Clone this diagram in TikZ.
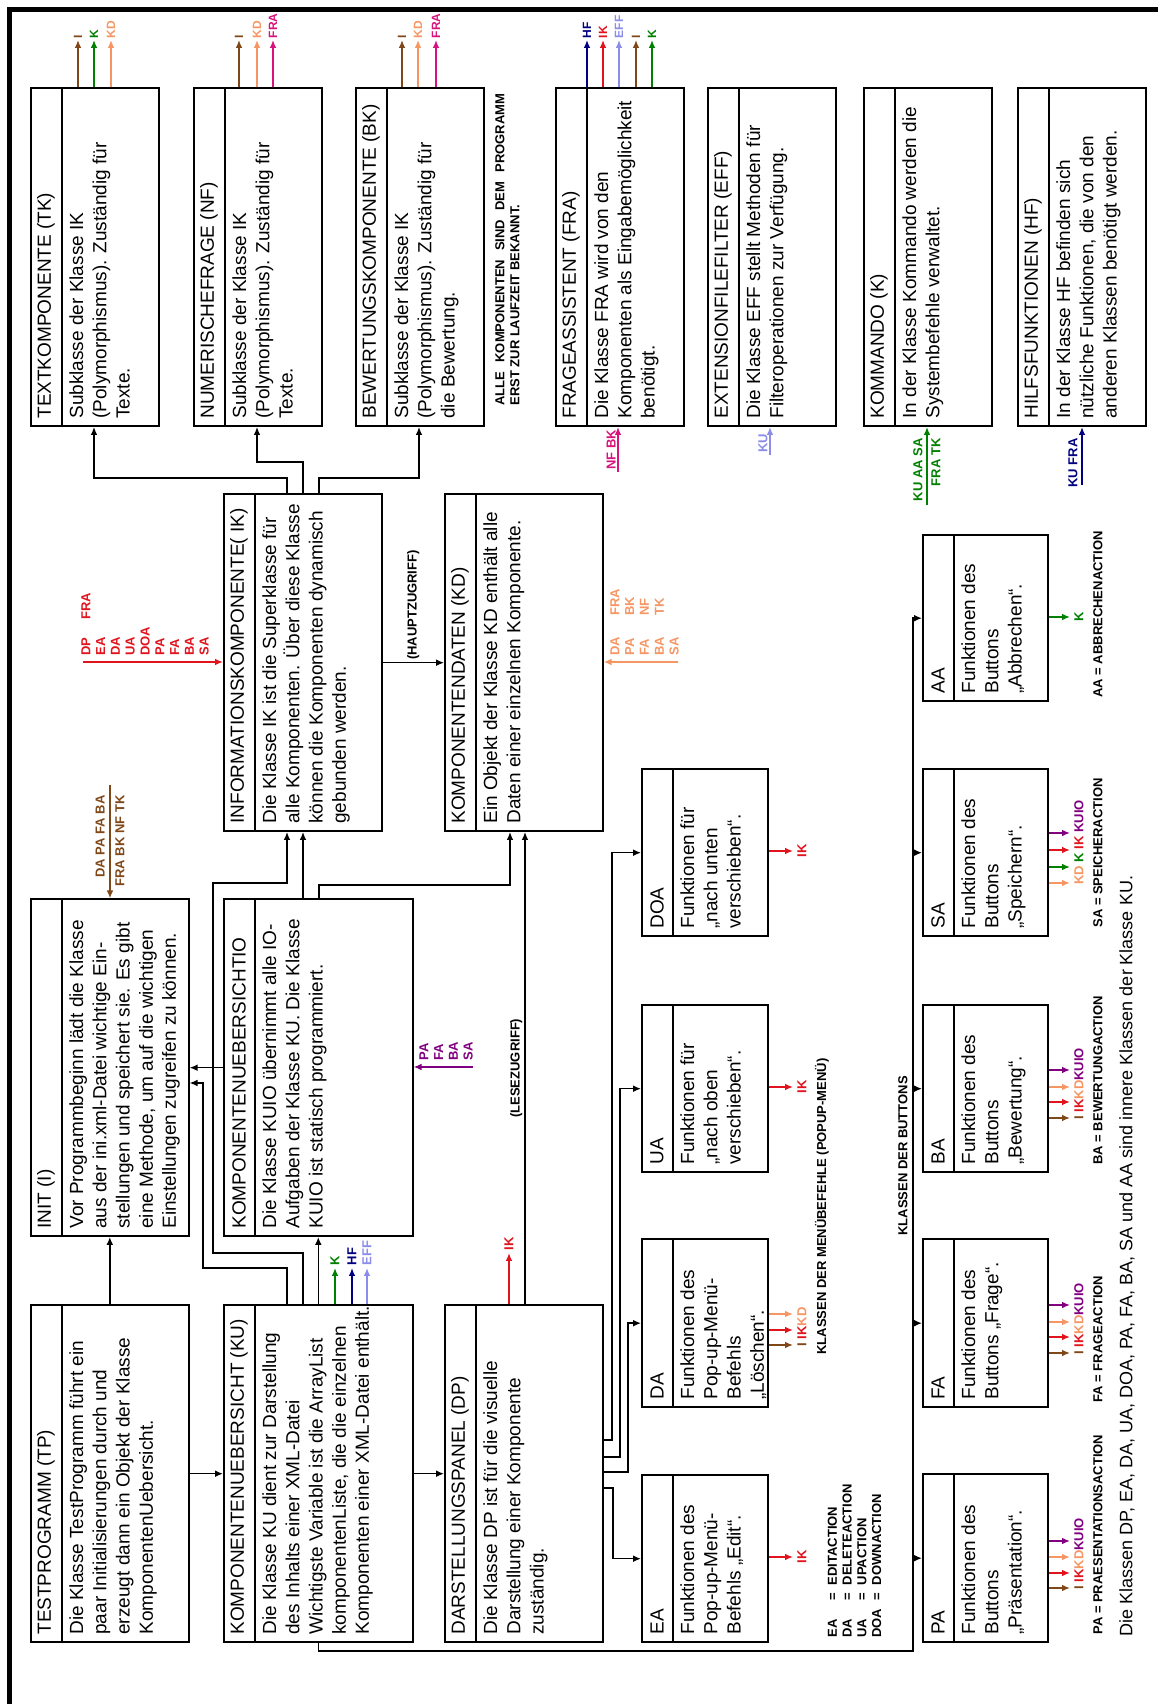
\documentclass[tikz,border=0pt]{standalone}
\usepackage{fontspec}
\setmainfont{Liberation Sans}
\usetikzlibrary{arrows.meta}
\definecolor{cI}{RGB}{128,72,24}
\definecolor{cK}{RGB}{0,128,0}
\definecolor{cKD}{RGB}{245,150,100}
\definecolor{cFRA}{RGB}{215,20,125}
\definecolor{cIK}{RGB}{225,20,30}
\definecolor{cHF}{RGB}{0,0,128}
\definecolor{cEFF}{RGB}{140,140,235}
\definecolor{cKUIO}{RGB}{128,0,128}

\begin{document}
\begin{tikzpicture}[x=0.5pt, y=0.5pt,
  klasse/.style={draw, line width=0.8pt, inner sep=0pt, anchor=north west},
  titel/.style={anchor=west, inner xsep=4pt, font=\fontsize{9.5}{11.5}\selectfont},
  inhalt/.style={anchor=north west, align=left, inner xsep=4pt, inner ysep=3.5pt, font=\fontsize{9.5}{11.6}\selectfont},
  pfeil/.style={-{Latex[length=4pt,width=3.4pt]}, line width=0.7pt},
  farb/.style={-{Latex[length=4pt,width=3.4pt]}, line width=0.8pt},
  lbl/.style={font=\fontsize{6.5}{7.4}\selectfont\bfseries, inner sep=1pt}]
\useasboundingbox (0,0) rectangle (1158,1704);
\draw[line width=2.6pt] (9.5,0) -- (9.5,1694.5) -- (1158,1694.5);
\begin{scope}[shift={(1158,0)}, rotate=90, transform shape]
% Klassen: name/links/oben/breite/hoehe/titel/text
\foreach \nm/\lx/\ty/\bw/\bh/\ttl/\txt in {
  tp/61/1128/337/158/{TESTPROGRAMM (TP)}/{Die Klasse TestProgramm führt ein\\paar Initialisierungen durch und\\erzeugt dann ein Objekt der Klasse\\KomponentenUebersicht.},
  init/467/1128/337/158/{INIT (I)}/{Vor Programmbeginn lädt die Klasse\\aus der ini.xml-Datei wichtige Ein-\\stellungen und speichert sie. Es gibt\\eine Methode, um auf die wichtigen\\Einstellungen zugreifen zu können.},
  ik/872/935/337/158/{INFORMATIONSKOMPONENTE( IK)}/{Die Klasse IK ist die Superklasse für\\alle Komponenten. Über diese Klasse\\können die Komponenten dynamisch\\gebunden werden.},
  ku/61/935/337/189/{KOMPONENTENUEBERSICHT (KU)}/{Die Klasse KU dient zur Darstellung\\des Inhalts einer XML-Datei\\Wichtigste Variable ist die ArrayList\\komponentenListe, die die einzelnen\\Komponenten einer XML-Datei enthält.},
  kuio/467/935/337/189/{KOMPONENTENUEBERSICHTIO}/{Die Klasse KUIO übernimmt alle IO-\\Aufgaben der Klasse KU. Die Klasse\\KUIO ist statisch programmiert.},
  kd/872/714/337/158/{KOMPONENTENDATEN (KD)}/{Ein Objekt der Klasse KD enthält alle\\Daten einer einzelnen Komponente.},
  dp/61/714/337/158/{DARSTELLUNGSPANEL (DP)}/{Die Klasse DP ist für die visuelle\\Darstellung einer Komponente\\zuständig.},
  tk/1277/1128/338/128/{TEXTKOMPONENTE (TK)}/{Subklasse der Klasse IK\\(Polymorphismus). Zuständig für\\Texte.},
  nf/1277/965/338/128/{NUMERISCHEFRAGE (NF)}/{Subklasse der Klasse IK\\(Polymorphismus). Zuständig für\\Texte.},
  bk/1277/803/338/128/{BEWERTUNGSKOMPONENTE (BK)}/{Subklasse der Klasse IK\\(Polymorphismus). Zuständig für\\die Bewertung.},
  fra/1277/603/338/128/{FRAGEASSISTENT (FRA)}/{Die Klasse FRA wird von den\\Komponenten als Eingabemöglichkeit\\benötigt.},
  eff/1277/451/338/128/{EXTENSIONFILEFILTER (EFF)}/{Die Klasse EFF stellt Methoden für\\Filteroperationen zur Verfügung.},
  kmd/1277/295/338/128/{KOMMANDO (K)}/{In der Klasse Kommando werden die\\Systembefehle verwaltet.},
  hf/1277/141/338/128/{HILFSFUNKTIONEN (HF)}/{In der Klasse HF befinden sich\\nützliche Funktionen, die von den\\anderen Klassen benötigt werden.},
  ea/61/517/167/126/{EA}/{Funktionen des\\Pop-up-Menü-\\Befehls „Edit“.},
  da/296/517/168/126/{DA}/{Funktionen des\\Pop-up-Menü-\\Befehls\\„Löschen“.},
  ua/531/517/167/126/{UA}/{Funktionen für\\„nach oben\\verschieben“.},
  doa/767/517/167/126/{DOA}/{Funktionen für\\„nach unten\\verschieben“.},
  pa/61/236/168/125/{PA}/{Funktionen des\\Buttons\\„Präsentation“.},
  fa/296/236/168/125/{FA}/{Funktionen des\\Buttons „Frage“.},
  ba/531/236/167/125/{BA}/{Funktionen des\\Buttons\\„Bewertung“.},
  sa/767/236/167/125/{SA}/{Funktionen des\\Buttons\\„Speichern“.},
  aa/1002/236/166/125/{AA}/{Funktionen des\\Buttons\\„Abbrechen“.}}{
  \node[klasse, minimum width=\bw*0.5pt, minimum height=\bh*0.5pt] (\nm) at (\lx,\ty) {};
  \draw[line width=0.8pt] (\lx,\ty-32) -- (\lx+\bw,\ty-32);
  \node[titel] (\nm-t) at (\lx,\ty-16) {\ttl};
  \node[inhalt] (\nm-b) at (\lx,\ty-32) {\txt};
}
% Verbindungen
\draw[pfeil] (tp) -- (init);
\draw[pfeil] (tp) -- (ku);
\draw[pfeil] (ku) -- (dp);
\draw[pfeil] (ku) -- (kuio);
\draw[pfeil] (kuio) -- (init);
\draw[pfeil] (ku.east |- 0,871) -| (436,955) -| (init.south -| 621,0);
\draw[pfeil] (ku.east |- 0,855) -| (451,945) -| (821,871) -- (ik.west |- 0,871);
\draw[pfeil] (kuio.east |- 0,855) -- (ik.west |- 0,855);
\draw[pfeil] (kuio.east |- 0,839) -| (819,648) -- (kd.west |- 0,648);
\draw[pfeil] (dp.east |- 0,633) -- (kd.west |- 0,633) node[lbl, midway, above] (lese) {(LESEZUGRIFF)};
\draw[pfeil] (ik) -- (kd) node[lbl, midway, right] (haupt) {(HAUPTZUGRIFF)};
\draw[pfeil] (ik.east |- 0,871) -| (1226,1064) -- (tk.west |- 0,1064);
\draw[pfeil] (ik.east |- 0,855) -| (1242,901) -- (nf.west |- 0,901);
\draw[pfeil] (ik.east |- 0,839) -| (1226,739) -- (bk.west |- 0,739);
\draw[pfeil] (dp.south -| 264,0) |- (doa.north |- 0,546) -- (doa.north);
\draw[pfeil] (dp.south -| 247,0) |- (ua.north |- 0,538) -- (ua.north);
\draw[pfeil] (dp.south -| 232,0) |- (da.north |- 0,530) -- (da.north);
\draw[pfeil] (dp.south -| 216,0) |- (ea.north |- 0,545) -- (ea.north);
\draw[pfeil] (ku.west) -| (53,245) -| (aa.north);
\foreach \nm in {pa,fa,ba,sa} \draw[pfeil] (\nm.north |- 0,245) -- (\nm.north);
\node[lbl, anchor=south] (knopf) at (548,248) {KLASSEN DER BUTTONS};
% farbige Pfeile rechts
\foreach \nm/\ly/\fb/\lb in {tk/1080/cI/I, tk/1064/cK/K, tk/1047/cKD/KD, nf/919/cI/I, nf/901/cKD/KD, nf/885/cFRA/FRA, bk/756/cI/I, bk/740/cKD/KD, bk/722/cFRA/FRA, fra/571/cHF/HF, fra/555/cIK/IK, fra/539/cEFF/EFF, fra/522/cI/I, fra/506/cK/K}{
  \coordinate (e\nm\lb) at (1664,\ly);
  \draw[farb, \fb] (\nm.east |- e\nm\lb) -- (e\nm\lb) node[lbl, anchor=west, inner sep=0.5pt, font=\fontsize{6}{7}\selectfont\bfseries, text=\fb] (l\nm\lb) {\lb};
}
\coordinate (sfra) at (1232,540);
\draw[farb, cFRA] (sfra) -- (fra.west |- sfra);
\node[lbl, text=cFRA, anchor=south west] (lfra) at (sfra) {NF BK};
\coordinate (seff) at (1249,388);
\draw[farb, cEFF] (seff) -- (eff.west |- seff);
\node[lbl, text=cEFF, anchor=south west] (leff) at (seff) {KU};
\coordinate (skmd) at (1199,231);
\draw[farb, cK] (skmd) -- (kmd.west |- skmd);
\node[lbl, text=cK, anchor=south east] (lkmda) at (1268,233) {KU AA SA};
\node[lbl, text=cK, anchor=north east] (lkmdb) at (1268,229) {FRA TK};
\coordinate (shf) at (1219,76);
\draw[farb, cHF] (shf) -- (hf.west |- shf);
\node[lbl, text=cHF, anchor=south east] (lhf) at (1268,78) {KU FRA};
\node[lbl, anchor=north west, align=left] (alle) at (1296,665) {\makebox[156pt][s]{ALLE KOMPONENTEN SIND DEM PROGRAMM}\\ERST ZUR LAUFZEIT BEKANNT.};
% Eingaenge in der Mitte
\coordinate (sik) at (1042,1075);
\draw[farb, cIK] (sik) -- (ik.north -| sik);
\node[lbl, text=cIK, anchor=north west, align=left] (lik) at (1046,1079) {\makebox[18pt][l]{DP}FRA\\EA\\DA\\UA\\DOA\\PA\\FA\\BA\\SA};
\coordinate (skd) at (1042,480);
\draw[farb, cKD] (skd) -- (kd.south -| skd);
\node[lbl, text=cKD, anchor=north west, align=left] (lkd) at (1046,550) {\makebox[20pt][l]{DA}FRA\\\makebox[20pt][l]{PA}BK\\\makebox[20pt][l]{FA}NF\\\makebox[20pt][l]{BA}TK\\SA};
\coordinate (sinit) at (919,1048);
\draw[farb, cI] (sinit) -- (init.east |- sinit);
\node[lbl, text=cI, anchor=south east] (linita) at (911,1051) {DA PA FA BA};
\node[lbl, text=cI, anchor=north east] (linitb) at (911,1045) {FRA BK NF TK};
\coordinate (skuio) at (637,685);
\draw[farb, cKUIO] (skuio) -- (kuio.south -| skuio);
\node[lbl, text=cKUIO, anchor=north west, align=left] (lkuio) at (641,741) {PA\\FA\\BA\\SA};
\foreach \ly/\fb/\lb in {823/cK/K, 806/cHF/HF, 791/cEFF/EFF}{
  \coordinate (eku\lb) at (436,\ly);
  \draw[farb, \fb] (ku.east |- eku\lb) -- (eku\lb) node[lbl, anchor=west, text=\fb] (lku\lb) {\lb};
}
\coordinate (edp) at (451,649);
\draw[farb, cIK] (dp.east |- edp) -- (edp) node[lbl, anchor=west, text=cIK] (ldp) {IK};
% Menuebefehle
\foreach \nm/\lx/\fb in {ea/147/cIK, da/359/cI, da/374/cIK, da/390/cKD, ua/617/cIK, doa/853/cIK}{
  \coordinate (e\nm\lx) at (\lx,365);
  \draw[farb, \fb] (\nm.south -| e\nm\lx) -- (e\nm\lx);
}
\node[lbl, text=cIK, anchor=north] (lea) at (147,363) {IK};
\node[lbl, anchor=north west] (lda) at (355,363) {\color{cI}I \color{cIK}IK\color{cKD}KD};
\node[lbl, text=cIK, anchor=north] (lua) at (617,363) {IK};
\node[lbl, text=cIK, anchor=north] (ldoa) at (853,363) {IK};
\node[lbl, anchor=west] (menue) at (347,336) {KLASSEN DER MENÜBEFEHLE (POPUP-MENÜ)};
\node[lbl, anchor=north west] (legende) at (64,334) {\begin{tabular}{@{}l@{\hspace{4pt}}c@{\hspace{4pt}}l@{}}EA&=&EDITACTION\\DA&=&DELETEACTION\\UA&=&UPACTION\\DOA&=&DOWNACTION\end{tabular}};
% Buttons
\foreach \nm/\lx/\fb in {pa/116/cI, pa/131/cIK, pa/147/cKD, pa/163/cKUIO, fa/351/cI, fa/367/cIK, fa/382/cKD, fa/399/cKUIO, ba/586/cI, ba/602/cIK, ba/617/cKD, ba/634/cKUIO, sa/821/cKD, sa/837/cK, sa/854/cIK, sa/871/cKUIO, aa/1087/cK}{
  \coordinate (e\nm\lx) at (\lx,88);
  \draw[farb, \fb] (\nm.south -| e\nm\lx) -- (e\nm\lx);
}
\foreach \nm/\lx in {pa/112, fa/347, ba/582}
  \node[lbl, anchor=north west] (l\nm) at (\lx,86) {\color{cI}I \color{cIK}IK\color{cKD}KD\color{cKUIO}KUIO};
\node[lbl, anchor=north west] (lsa) at (817,86) {\color{cKD}KD \color{cK}K \color{cIK}IK \color{cKUIO}KUIO};
\node[lbl, text=cK, anchor=north] (laa) at (1087,86) {K};
\node[lbl, anchor=west] (fnpa) at (67,60) {PA = PRAESENTATIONSACTION};
\node[lbl, anchor=west] (fnfa) at (299,60) {FA = FRAGEACTION};
\node[lbl, anchor=west] (fnba) at (537,60) {BA = BEWERTUNGACTION};
\node[lbl, anchor=west] (fnsa) at (774,60) {SA = SPEICHERACTION};
\node[lbl, anchor=west] (fnaa) at (1004,60) {AA = ABBRECHENACTION};
\node[anchor=west, inner sep=1pt, font=\fontsize{9}{11}\selectfont] (fuss) at (65,31) {Die Klassen DP, EA, DA, UA, DOA, PA, FA, BA, SA und AA sind innere Klassen der Klasse KU.};
\end{scope}
\end{tikzpicture}
\end{document}
